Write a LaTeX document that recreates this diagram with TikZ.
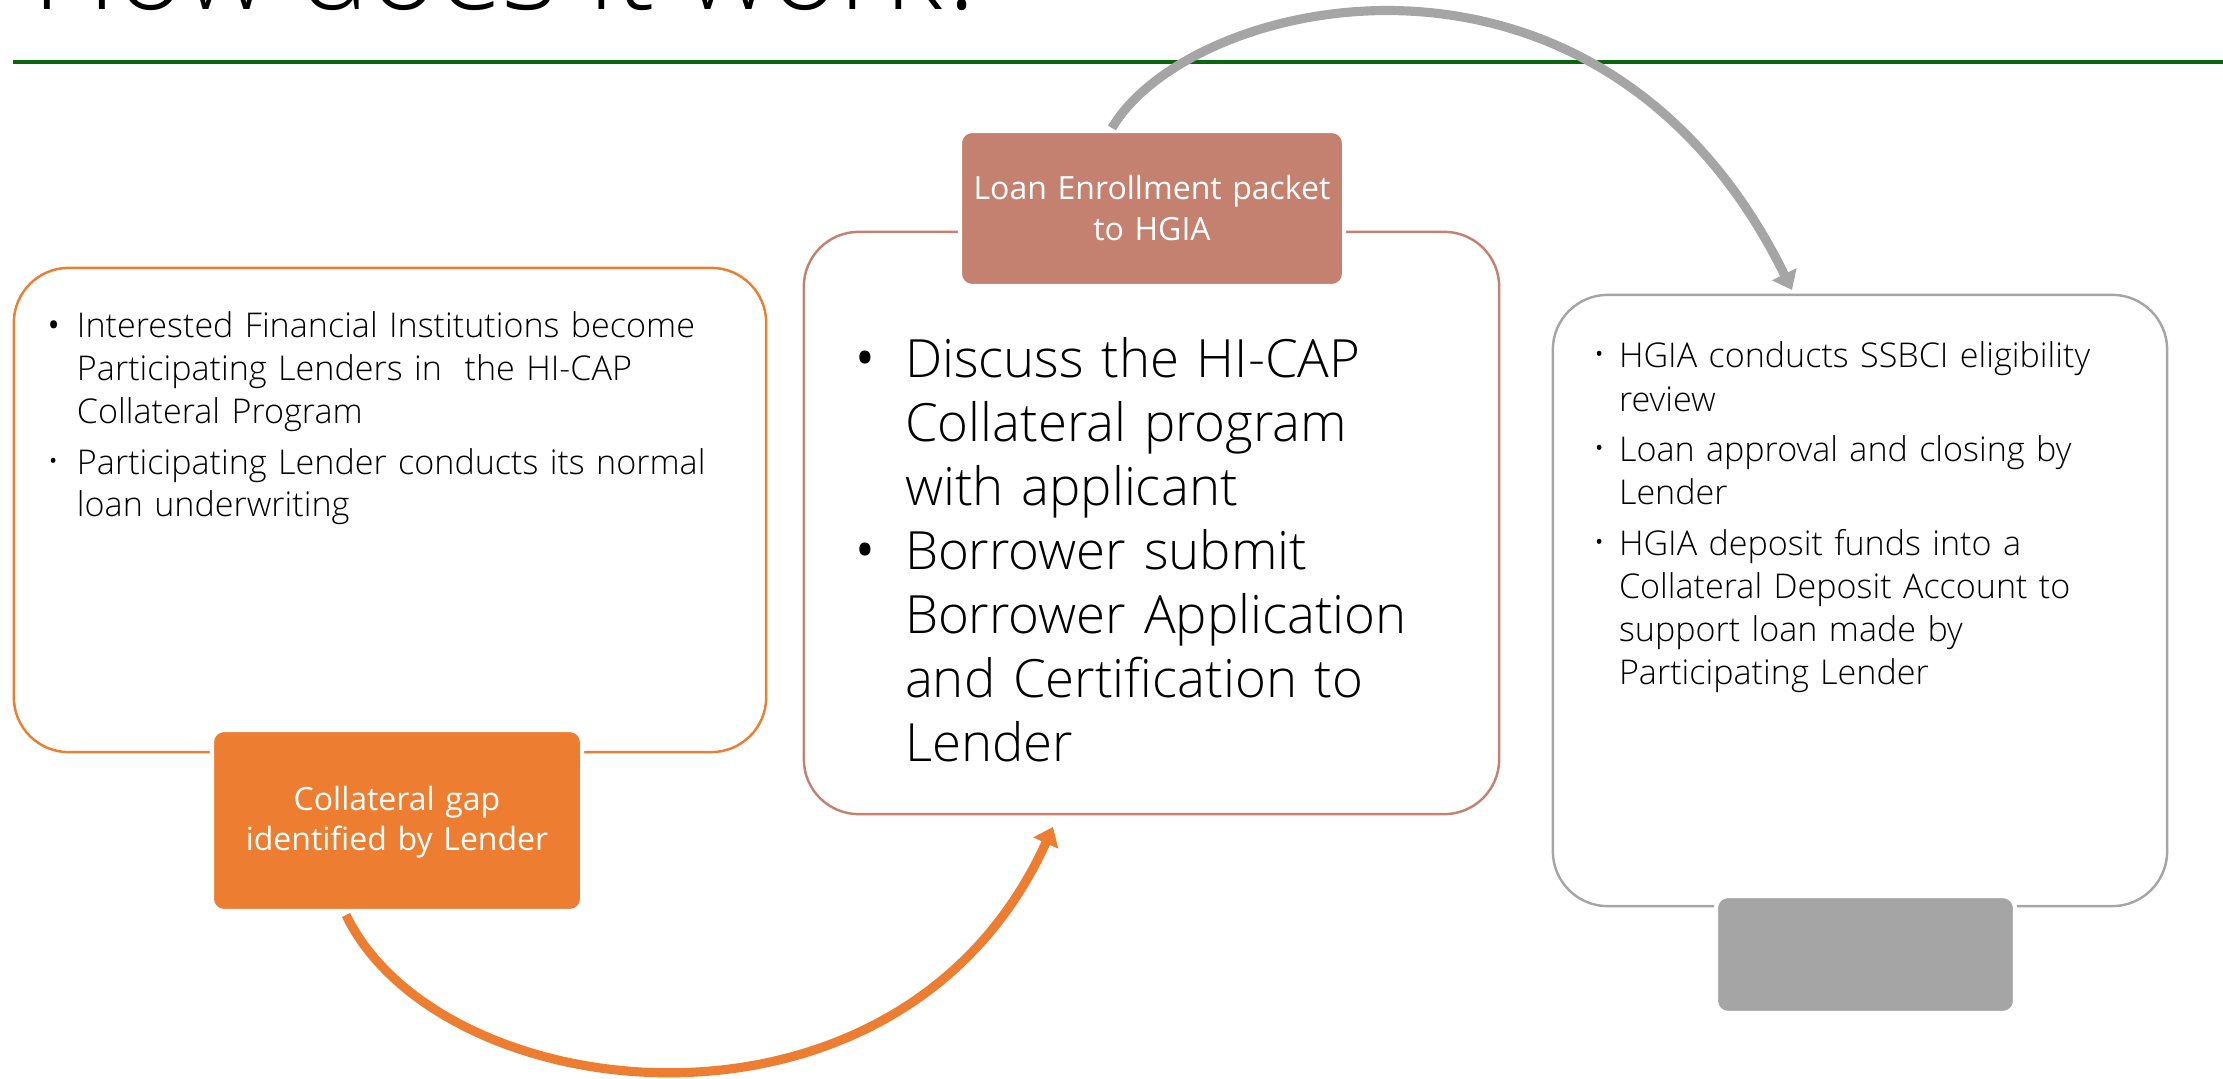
\documentclass[tikz,border=0pt]{standalone}
\usepackage{fontspec}
\setmainfont{Open Sans}[UprightFont = * Light]
\newfontfamily\tabfont{Open Sans}
\usetikzlibrary{arrows.meta}

\definecolor{stepOrange}{HTML}{ED7D31}
\definecolor{stepBrown}{HTML}{C48170}
\definecolor{stepGray}{HTML}{A5A5A5}
\definecolor{ruleGreen}{HTML}{0A660A}

\newcommand{\bul}[2]{\leavevmode\llap{\makebox[0pt][c]{#1}\hspace{#2}}}
\newcommand{\bigdot}[2]{\raisebox{#2}{\fontsize{#1}{#1}\selectfont •}}
\newcommand{\middot}{{\tabfont\fontsize{11}{11}\selectfont ·}}

\begin{document}
\begin{tikzpicture}[x = 0.01cm, y = -0.01cm,
  every node/.append style = {inner sep = 0pt, outer sep = 0pt},
  panel/.style = {draw = #1, line width = 0.7pt, rounded corners = 0.55cm},
  tab/.style = {fill = #1, draw = white, line width = 1.2pt, rounded corners = 0.12cm},
  bodytext/.style = {anchor = base west, text width = 8cm, align = left, font = \fontsize{9.7}{12.1}\selectfont},
  tabtext/.style = {anchor = base, text width = 5cm, align = center, text = white, font = \tabfont\fontsize{9.1}{11.6}\selectfont},
  flow/.style = {draw = #1, line width = 2.6pt, -{Triangle[length = 5pt, width = 7.5pt]}}]

  \useasboundingbox (0, 0) rectangle (2223, 1079);
  \clip (0, 0) rectangle (2223, 1079);

  \node[anchor = base west, font = \fontsize{33.5}{40}\selectfont] (title) at (32, 10) {How does it work?};
  \draw[ruleGreen, line width = 1.15pt] (13, 62) -- (2223, 62);

  \node[panel = stepOrange, minimum width = 7.52cm, minimum height = 4.84cm] (lenderpanel) at (390, 510) {};
  \node[panel = stepBrown, minimum width = 6.95cm, minimum height = 5.82cm] (borrowerpanel) at (1151.5, 523) {};
  \node[panel = stepGray, minimum width = 6.14cm, minimum height = 6.11cm] (hgiapanel) at (1860, 600.5) {};

  \node[tab = stepOrange, minimum width = 3.70cm, minimum height = 1.81cm] (gaptab) at (397, 820.5) {};
  \node[tab = stepBrown, minimum width = 3.84cm, minimum height = 1.55cm] (packettab) at (1152, 208.5) {};
  \node[tab = stepGray, minimum width = 2.99cm, minimum height = 1.17cm] (fundstab) at (1865.5, 954.5) {};

  \node[bodytext] (lendertext) at (77, 338) {\bul{\bigdot{13}{-0.9pt}}{6.5pt}Interested Financial Institutions become\\Participating Lenders in\ \ the HI-CAP\\Collateral Program\\[2.4pt]\bul{\middot}{6.5pt}Participating Lender conducts its normal\\loan underwriting};

  \node[bodytext, font = \fontsize{15}{18.2}\selectfont] (borrowertext) at (905, 377) {\bul{\bigdot{21}{-2pt}}{11.4pt}Discuss the HI-CAP\\Collateral program\\with applicant\\\bul{\bigdot{21}{-2pt}}{11.4pt}Borrower submit\\Borrower Application\\and Certification to\\Lender};

  \node[bodytext, font = \fontsize{9.7}{12.3}\selectfont] (hgiatext) at (1619, 368) {\bul{\middot}{5.4pt}HGIA conducts SSBCI eligibility\\review\\[2pt]\bul{\middot}{5.4pt}Loan approval and closing by\\Lender\\[2pt]\bul{\middot}{5.4pt}HGIA deposit funds into a\\Collateral Deposit Account to\\support loan made by\\Participating Lender};

  \node[tabtext] (gaptext) at (397, 810) {Collateral gap\\identified by Lender};
  \node[tabtext, font = \tabfont\fontsize{9.1}{11.4}\selectfont] (packettext) at (1152, 200) {Loan Enrollment packet\\to HGIA};

  \coordinate (gapout) at (346, 915);
  \coordinate (borrowerin) at (1053, 827);
  \draw[flow = stepOrange] (gapout) .. controls (440, 1110) and (900, 1165) .. (borrowerin);

  \coordinate (packetout) at (1112, 128);
  \coordinate (hgiain) at (1792, 290);
  \draw[flow = stepGray] (packetout) .. controls (1190, -5) and (1600, -100) .. (hgiain);

\end{tikzpicture}
\end{document}
